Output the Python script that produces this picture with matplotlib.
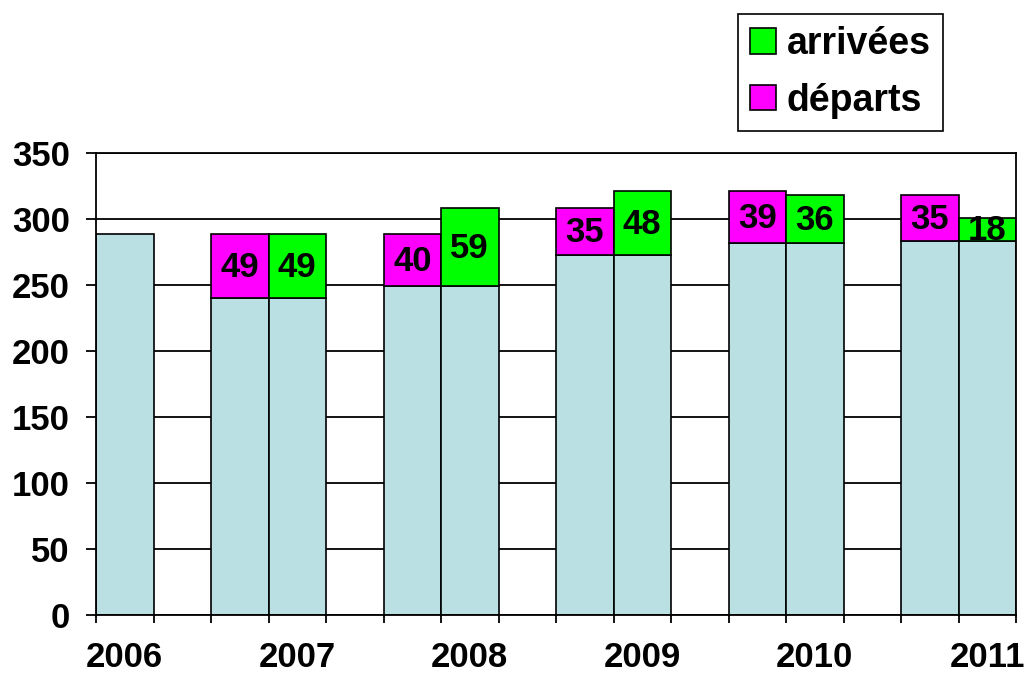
import numpy as np
import matplotlib.pyplot as plt
from matplotlib.patches import Patch

years = ['2006', '2007', '2008', '2009', '2010', '2011']
pop_2006 = 289
departs = [49, 40, 35, 39, 35]     # 2007..2011
arrivees = [49, 59, 48, 36, 18]

c_base = '#BBE0E3'
c_arr = '#00FF00'
c_dep = '#FF00FF'

plt.rcParams['font.family'] = ['Liberation Sans', 'DejaVu Sans']
plt.rcParams['font.weight'] = 'bold'
fs = 25

fig = plt.figure(figsize=(10.26, 6.77), dpi=100)
ax = fig.add_axes([96/1026, 62/677, 920/1026, 462/677])

# 2006: single bar
ax.bar(0, pop_2006, width=1, color=c_base, edgecolor='black', linewidth=1.2, zorder=2)

pop = pop_2006
label_pos = [0]
for i in range(len(departs)):
    xd = 2 + 3*i      # departures bar
    xa = xd + 1       # arrivals bar
    base = pop - departs[i]
    ax.bar([xd, xa], [base, base], width=1, color=c_base, edgecolor='black', linewidth=1.2, zorder=2)
    ax.bar(xd, departs[i], bottom=base, width=1, color=c_dep, edgecolor='black', linewidth=1.2, zorder=2)
    ax.bar(xa, arrivees[i], bottom=base, width=1, color=c_arr, edgecolor='black', linewidth=1.2, zorder=2)
    ax.text(xd, base + departs[i]/2 - 1, str(departs[i]), ha='center', va='center',
            fontsize=fs, fontweight='bold', zorder=3)
    ax.text(xa, base + arrivees[i]/2 - 1, str(arrivees[i]), ha='center', va='center',
            fontsize=fs, fontweight='bold', zorder=3)
    label_pos.append(xa)
    pop = base + arrivees[i]

ax.set_xlim(-0.5, 15.5)
ax.set_ylim(0, 350)
ax.set_yticks(np.arange(0, 351, 50))
ax.yaxis.grid(True, color='black', linewidth=1.3, zorder=0)
ax.set_axisbelow(True)
ax.tick_params(axis='y', length=7, width=1.3, direction='out', pad=12, labelsize=fs)

ax.set_xticks(np.arange(-0.5, 15.6, 1))
ax.set_xticklabels([])
ax.tick_params(axis='x', which='major', length=6, width=1.3, direction='out')
ax.set_xticks(label_pos, minor=True)
ax.set_xticklabels(years, minor=True)
ax.tick_params(axis='x', which='minor', length=0, pad=19, labelsize=fs)

for lab in ax.get_xticklabels(minor=True) + ax.get_yticklabels():
    lab.set_fontweight('bold')

for s in ax.spines.values():
    s.set_linewidth(1.3)

handles = [Patch(facecolor=c_arr, edgecolor='black', linewidth=1.2),
           Patch(facecolor=c_dep, edgecolor='black', linewidth=1.2)]
leg = fig.legend(handles, ['arrivées', 'départs'], loc='upper left',
                 bbox_to_anchor=(738/1026, 1 - 14/677), borderaxespad=0,
                 prop={'size': 27, 'weight': 'bold'}, fancybox=False,
                 edgecolor='black', framealpha=1, handlelength=0.68,
                 handleheight=0.68, handletextpad=0.3, labelspacing=0.55,
                 borderpad=0.32)
leg.get_frame().set_linewidth(1.2)

fig.savefig('out.png', dpi=100)
